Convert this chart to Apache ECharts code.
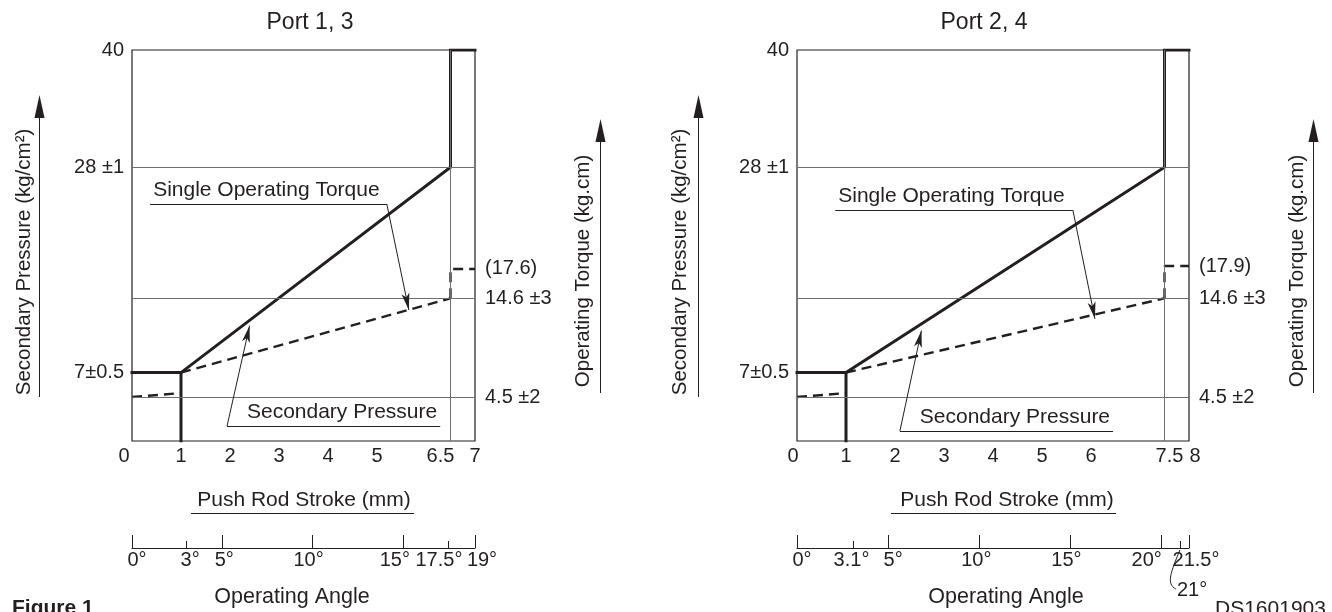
<!DOCTYPE html>
<html>
<head>
<meta charset="utf-8">
<script src="https://cdn.jsdelivr.net/npm/echarts@6/dist/echarts.min.js"></script>
<style>
  html, body { margin: 0; padding: 0; background: #ffffff; }
  #chart { width: 1332px; height: 612px; }
</style>
</head>
<body>
<div id="chart"></div>
<script>
// ---- Port 1, 3 ----
const strokeTicks13 = [0, 1, 2, 3, 4, 5, 6.5, 7];
const angleLabels13 = [0, 3, 5, 10, 15, 17.5, 19];
const angleMajor13 = [0, 5, 10, 15, 19];
const angleMinor13 = [3, 17.5];
const pressure13 = [[0, 7], [1, 7], [6.5, 28], [6.5, 40], [7, 40]];
const pressureStep13 = [[1, 0], [1, 7]];
const torqueIdle13 = [[0, 4.5], [1, 4.9]];
const torque13 = [[1, 7], [6.5, 14.6], [6.5, 17.6], [7, 17.6]];
const rightTicks13 = [4.5, 14.6, 17.6];
const rightText13 = ['4.5 ±2', '14.6 ±3', '(17.6)'];

// ---- Port 2, 4 ----
const strokeTicks24 = [0, 1, 2, 3, 4, 5, 6, 7.5, 8];
const angleLabels24 = [0, 3.1, 5, 10, 15, 20, 21.5];
const angleMajor24 = [0, 5, 10, 15, 20, 21.5];
const angleMinor24 = [3.1, 21];
const angleCallout24 = 21;
const pressure24 = [[0, 7], [1, 7], [7.5, 28], [7.5, 40], [8, 40]];
const pressureStep24 = [[1, 0], [1, 7]];
const torqueIdle24 = [[0, 4.5], [1, 4.9]];
const torque24 = [[1, 7], [7.5, 14.6], [7.5, 17.9], [8, 17.9]];
const rightTicks24 = [4.5, 14.6, 17.9];
const rightText24 = ['4.5 ±2', '14.6 ±3', '(17.9)'];

// ---- shared ----
const leftTicks = [7, 28, 40];
const leftText = ['7±0.5', '28 ±1', '40'];
const guideLevels = [28, 14.6, 4.5];

const INK = '#231f20';
const GUIDE = '#6d6e71';
const FONT = '"Liberation Sans", Arial, Helvetica, sans-serif';

// small horizontal nudges for crowded tick labels (px, negative = left)
const strokeNudge13 = { 0: -8, 6.5: -10 };
const strokeNudge24 = { 0: -4, 7.5: 5, 8: 6 };
const angleNudge13 = { 0: 5, 3: 4, 5: 2, 10: -4, 15: -8, 17.5: -9, 19: 7 };
const angleNudge24 = { 0: 5, 3.1: -2, 5: 5, 10: -3, 15: -4, 20: -15, 21.5: 7 };

const rich = {};
[strokeNudge13, strokeNudge24, angleNudge13, angleNudge24].forEach(m => {
  Object.keys(m).forEach(k => {
    const dx = m[k];
    const key = (dx < 0 ? 'l' : 'r') + Math.round(Math.abs(dx) * 2);
    rich[key] = {
      fontSize: 20, fontFamily: FONT, color: INK,
      padding: dx < 0 ? [0, -2 * dx, 0, 0] : [0, 0, 0, 2 * dx]
    };
  });
});
function nudged(text, dx) {
  if (!dx) return text;
  const key = (dx < 0 ? 'l' : 'r') + Math.round(Math.abs(dx) * 2);
  return '{' + key + '|' + text + '}';
}
function lookup(vals, texts, v) {
  const i = vals.findIndex(t => Math.abs(t - v) < 1e-6);
  return i < 0 ? '' : texts[i];
}

const labelFont = { fontSize: 20, fontFamily: FONT, color: INK };

const grids = [], xAxes = [], yAxes = [], series = [];

function panel(k, p) {
  const gMain = 2 * k, gAngle = 2 * k + 1;
  const xi = 3 * k, yi = 3 * k;
  grids.push({ left: p.left, top: 50, width: p.width, height: 391, show: true,
    borderColor: INK, borderWidth: 1.2, backgroundColor: 'transparent' });
  grids.push({ left: p.left, top: 500, width: p.width, height: 48, show: false });

  // push rod stroke
  xAxes.push({
    gridIndex: gMain, type: 'value', min: 0, max: p.strokeMax,
    axisLine: { show: false }, axisTick: { show: false }, splitLine: { show: false },
    axisLabel: Object.assign({}, labelFont, {
      customValues: p.strokeTicks, margin: 5, rich: rich,
      formatter: v => nudged(String(v), p.strokeNudge[v])
    })
  });
  // operating angle: long ticks + labels
  xAxes.push({
    gridIndex: gAngle, type: 'value', min: 0, max: p.angleMax, position: 'bottom',
    axisLine: { show: true, lineStyle: { color: INK, width: 1 } },
    axisTick: { show: true, inside: true, length: 13, customValues: p.angleMajor,
      lineStyle: { color: INK, width: 1 } },
    splitLine: { show: false },
    axisLabel: Object.assign({}, labelFont, {
      customValues: p.angleLabels, margin: 2, rich: rich,
      formatter: v => nudged(v + '°', p.angleNudge[v])
    })
  });
  // operating angle: short ticks
  xAxes.push({
    gridIndex: gAngle, type: 'value', min: 0, max: p.angleMax, position: 'bottom',
    axisLine: { show: false },
    axisTick: { show: true, inside: true, length: 7, customValues: p.angleMinor,
      lineStyle: { color: INK, width: 1 } },
    axisLabel: { show: false }, splitLine: { show: false }
  });

  // secondary pressure (left)
  yAxes.push({
    gridIndex: gMain, type: 'value', min: 0, max: 40, position: 'left',
    axisLine: { show: false }, axisTick: { show: false }, splitLine: { show: false },
    axisLabel: Object.assign({}, labelFont, {
      customValues: leftTicks, margin: 8, showMaxLabel: true, showMinLabel: true,
      formatter: v => lookup(leftTicks, leftText, v)
    })
  });
  // operating torque (right)
  yAxes.push({
    gridIndex: gMain, type: 'value', min: 0, max: 40, position: 'right',
    axisLine: { show: false }, axisTick: { show: false }, splitLine: { show: false },
    axisLabel: Object.assign({}, labelFont, {
      customValues: p.rightTicks, margin: 10,
      formatter: v => lookup(p.rightTicks, p.rightText, v)
    })
  });
  yAxes.push({ gridIndex: gAngle, type: 'value', min: 0, max: 1, show: false });

  const strokeEnd = p.pressure[2][0];

  // thin reference lines
  series.push({
    type: 'line', xAxisIndex: xi, yAxisIndex: yi, data: [], z: 1, silent: true,
    markLine: {
      silent: true, animation: false, symbol: ['none', 'none'],
      label: { show: false },
      lineStyle: { color: GUIDE, width: 1, type: 'solid' },
      data: guideLevels.map(v => ({ yAxis: v })).concat([{ xAxis: strokeEnd }])
    }
  });
  const solid = { color: INK, width: 3, type: 'solid', cap: 'square', join: 'miter' };
  const dashed = { color: INK, width: 2.4, type: [10, 6] };
  series.push({ name: 'Secondary Pressure', type: 'line', xAxisIndex: xi, yAxisIndex: yi,
    data: p.pressure, symbol: 'none', lineStyle: solid, z: 3, animation: false });
  series.push({ type: 'line', xAxisIndex: xi, yAxisIndex: yi,
    data: p.pressureStep, symbol: 'none', lineStyle: solid, z: 3, animation: false });
  series.push({ type: 'line', xAxisIndex: xi, yAxisIndex: yi + 1,
    data: p.torqueIdle, symbol: 'none', lineStyle: dashed, z: 3, animation: false });
  // torque ramp, then the step at full stroke (dash pattern restarts at the corner)
  series.push({ name: 'Single Operating Torque', type: 'line', xAxisIndex: xi, yAxisIndex: yi + 1,
    data: p.torque.slice(0, 2), symbol: 'none', lineStyle: dashed, z: 3, animation: false });
  series.push({ type: 'line', xAxisIndex: xi, yAxisIndex: yi + 1,
    data: p.torque.slice(1), symbol: 'none', lineStyle: dashed, z: 3, animation: false });

  // callouts: underlined caption + leader arrow
  const mlData = [];
  p.callouts.forEach(c => {
    mlData.push([
      { coord: [c.from, c.y], symbol: 'none',
        label: { show: true, formatter: c.text, position: c.pos, distance: 3,
          fontSize: 21, fontFamily: FONT, color: INK } },
      { coord: [c.to, c.y], symbol: 'none' }
    ]);
    mlData.push([
      { coord: [c.anchor, c.y], symbol: 'none', label: { show: false } },
      { coord: c.tip, symbol: 'arrow', symbolSize: [6, 17] }
    ]);
  });
  series.push({
    type: 'line', xAxisIndex: xi, yAxisIndex: yi, data: [], z: 4, silent: true,
    markLine: {
      silent: true, animation: false, symbol: ['none', 'none'],
      lineStyle: { color: INK, width: 1, type: 'solid' },
      data: mlData
    }
  });
}

panel(0, {
  left: 132, width: 343, strokeMax: 7, angleMax: 19,
  strokeTicks: strokeTicks13, strokeNudge: strokeNudge13,
  angleLabels: angleLabels13, angleMajor: angleMajor13, angleMinor: angleMinor13, angleNudge: angleNudge13,
  pressure: pressure13, pressureStep: pressureStep13, torqueIdle: torqueIdle13, torque: torque13,
  rightTicks: rightTicks13, rightText: rightText13,
  callouts: [
    { text: 'Single Operating Torque', y: 24.25, from: 0.37, to: 5.2, anchor: 5.2, tip: [5.65, 13.4], pos: 'insideStartTop' },
    { text: 'Secondary Pressure', y: 1.53, from: 1.94, to: 6.29, anchor: 1.94, tip: [2.4, 11.8], pos: 'insideEndTop' }
  ]
});
panel(1, {
  left: 797, width: 392, strokeMax: 8, angleMax: 21.5,
  strokeTicks: strokeTicks24, strokeNudge: strokeNudge24,
  angleLabels: angleLabels24, angleMajor: angleMajor24, angleMinor: angleMinor24, angleNudge: angleNudge24,
  pressure: pressure24, pressureStep: pressureStep24, torqueIdle: torqueIdle24, torque: torque24,
  rightTicks: rightTicks24, rightText: rightText24,
  callouts: [
    { text: 'Single Operating Torque', y: 23.63, from: 0.78, to: 5.63, anchor: 5.63, tip: [6.08, 12.5], pos: 'insideStartTop' },
    { text: 'Secondary Pressure', y: 1.02, from: 2.1, to: 6.45, anchor: 2.1, tip: [2.54, 11.3], pos: 'insideEndTop' }
  ]
});

const chart = echarts.init(document.getElementById('chart'), null, { renderer: 'canvas' });
chart.setOption({
  animation: false,
  backgroundColor: '#ffffff',
  grid: grids, xAxis: xAxes, yAxis: yAxes, series: series
});

// ---- titles, axis captions and arrows ----
const text = (x, y, s, opt) => Object.assign({
  type: 'text', x: x, y: y, silent: true,
  style: Object.assign({ text: s, fill: INK, font: '21px ' + FONT, align: 'center', verticalAlign: 'middle' }, opt || {})
});
function axisCaption(textX, textY, s, lineX, tipY, bottomY) {
  return [
    { type: 'text', x: textX, y: textY, rotation: Math.PI / 2, silent: true,
      style: { text: s, fill: INK, font: '20.5px ' + FONT, align: 'center', verticalAlign: 'middle' } },
    { type: 'line', silent: true, shape: { x1: lineX, y1: tipY + 20, x2: lineX, y2: bottomY },
      style: { stroke: INK, lineWidth: 1 } },
    { type: 'polygon', silent: true,
      shape: { points: [[lineX, tipY], [lineX - 5, tipY + 23], [lineX + 5, tipY + 23]] },
      style: { fill: INK } }
  ];
}
function underline(x1, x2, y) {
  return { type: 'line', silent: true, shape: { x1: x1, y1: y, x2: x2, y2: y }, style: { stroke: INK, lineWidth: 1 } };
}

const calloutX = chart.convertToPixel({ xAxisIndex: 4 }, angleCallout24);
const angleLineY = chart.convertToPixel({ yAxisIndex: 5 }, 0);

const elements = [].concat(
  [text(310, 23, 'Port 1, 3', { font: '23px ' + FONT }), text(984, 23, 'Port 2, 4', { font: '23px ' + FONT })],
  axisCaption(24, 262, 'Secondary Pressure (kg/cm²)', 39.5, 95, 397),
  axisCaption(583, 271, 'Operating Torque (kg.cm)', 600.5, 119, 393),
  axisCaption(680, 262, 'Secondary Pressure (kg/cm²)', 698.5, 95, 397),
  axisCaption(1297, 271, 'Operating Torque (kg.cm)', 1313.5, 119, 393),
  [
    text(304, 500, 'Push Rod Stroke (mm)'), underline(191, 414, 513.5),
    text(1007, 500, 'Push Rod Stroke (mm)'), underline(891, 1116, 513.5),
    text(292, 597, 'Operating Angle', { font: '21.5px ' + FONT }),
    text(1006, 597, 'Operating Angle', { font: '21.5px ' + FONT }),
    { type: 'bezierCurve', silent: true,
      shape: { x1: calloutX, y1: angleLineY + 2, cpx1: calloutX - 9, cpy1: angleLineY + 24,
               cpx2: calloutX - 14, cpy2: angleLineY + 36, x2: calloutX - 4, y2: angleLineY + 41 },
      style: { stroke: INK, lineWidth: 1, fill: null } },
    text(calloutX - 3, angleLineY + 42, angleCallout24 + '°', { align: 'left', font: '20px ' + FONT }),
    text(12, 598, 'Figure 1', { align: 'left', verticalAlign: 'top', font: 'bold 21px ' + FONT }),
    text(1215, 599, 'DS1601903', { align: 'left', verticalAlign: 'top', font: '21px ' + FONT })
  ]
);
chart.setOption({ graphic: { elements: elements } });
</script>
</body>
</html>
